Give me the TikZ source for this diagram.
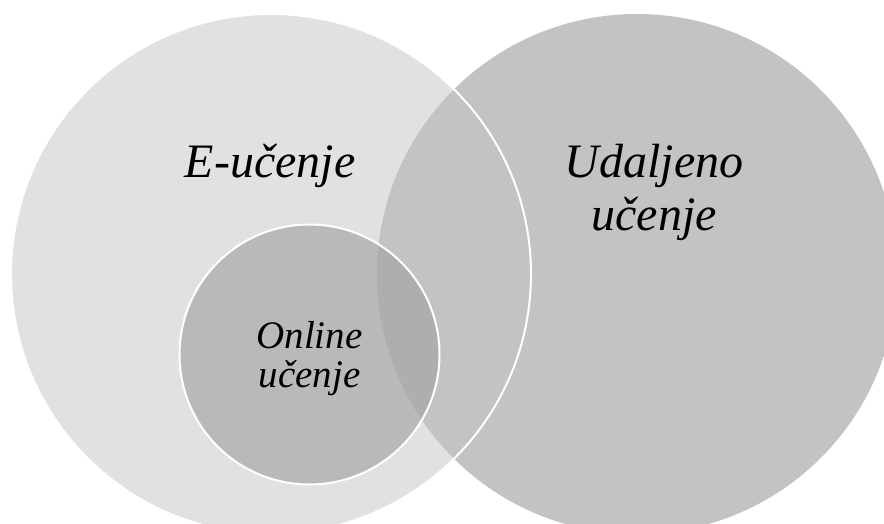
\documentclass[tikz,border=0pt]{standalone}
\usepackage{fontspec}
\setmainfont{Liberation Serif}

\definecolor{lightset}{HTML}{E1E1E1}
\definecolor{darkset}{HTML}{C3C3C3}
\definecolor{innerset}{HTML}{A2A2A2}

\begin{document}
\begin{tikzpicture}[x=0.5pt,y=-0.5pt]

        \useasboundingbox (0,0) rectangle (884,524);
        \clip (0,0) rectangle (884,524);

        \begin{scope}[every node/.style={circle, inner sep=0pt, outer sep=0pt}]
          \node[fill=lightset, minimum size=260pt] (e) at (271,274) {};
          \node[fill=darkset,  minimum size=260pt] (u) at (637,274) {};
          \node[draw=white, line width=1pt, minimum size=260pt] (eb) at (e) {};
          \node[fill=innerset, fill opacity=.63, draw=white, line width=1pt,
                minimum size=130pt] (o) at (309.5,354.5) {};
        \end{scope}

        \begin{scope}[every node/.style={align=center, anchor=base}]
          \node[font=\fontsize{24}{26.5}\selectfont\itshape] (et) at (270,177) {E-učenje};
          \node[font=\fontsize{24}{26.5}\selectfont\itshape] (ut) at (654,230) {Udaljeno\\učenje};
          \node[font=\fontsize{19.5}{19.5}\selectfont\itshape] (ot) at (309.5,387) {Online\\učenje};
        \end{scope}

      \end{tikzpicture}
\end{document}
